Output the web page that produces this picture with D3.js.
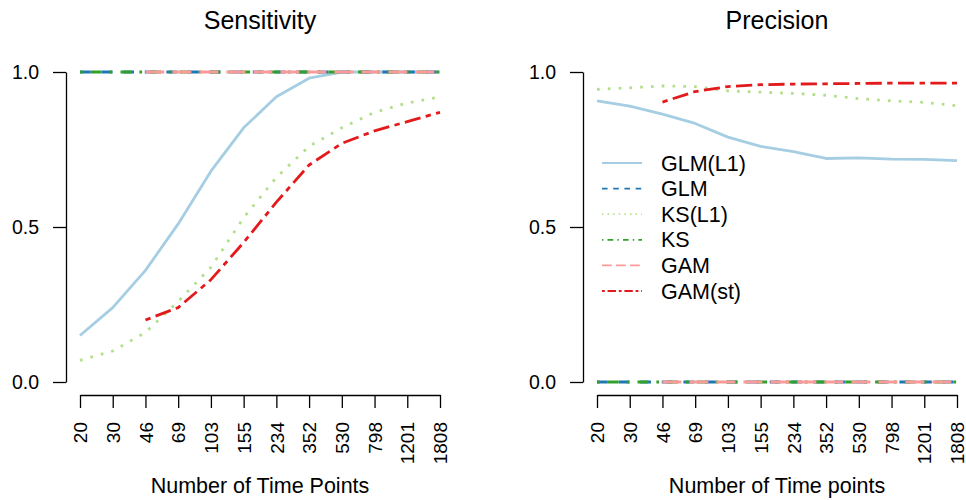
<!DOCTYPE html>
<html>
<head>
<meta charset="utf-8">
<script src="https://cdn.jsdelivr.net/npm/d3@7/dist/d3.min.js"></script>
<style>
  html, body { margin: 0; padding: 0; background: #fff; }
  svg { display: block; font-family: "Liberation Sans", Arial, Helvetica, sans-serif; }
</style>
</head>
<body>
<svg id="chart" width="966" height="500"></svg>
<script>
// Number of time points (categorical x positions)
const timePoints = ["20", "30", "46", "69", "103", "155", "234", "352", "530", "798", "1201", "1808"];
const methods = ["GLM(L1)", "GLM", "KS(L1)", "KS", "GAM", "GAM(st)"];

// Sensitivity by method
const sensGLML1 = [0.15, 0.24, 0.36, 0.51, 0.68, 0.82, 0.92, 0.98, 1.0, 1.0, 1.0, 1.0];
const sensGLM   = [1, 1, 1, 1, 1, 1, 1, 1, 1, 1, 1, 1];
const sensKSL1  = [0.07, 0.10, 0.16, 0.26, 0.37, 0.53, 0.66, 0.76, 0.82, 0.87, 0.90, 0.92];
const sensKS    = [1, 1, 1, 1, 1, 1, 1, 1, 1, 1, 1, 1];
const sensGAM   = [null, null, 1, 1, 1, 1, 1, 1, 1, 1, 1, 1];
const sensGAMst = [null, null, 0.20, 0.24, 0.33, 0.45, 0.58, 0.70, 0.77, 0.81, 0.84, 0.87];

// Precision by method
const precGLML1 = [0.907, 0.89, 0.864, 0.834, 0.79, 0.76, 0.743, 0.721, 0.723, 0.719, 0.718, 0.714];
const precGLM   = [0, 0, 0, 0, 0, 0, 0, 0, 0, 0, 0, 0];
const precKSL1  = [0.944, 0.949, 0.955, 0.953, 0.939, 0.935, 0.931, 0.925, 0.914, 0.907, 0.902, 0.891];
const precKS    = [0, 0, 0, 0, 0, 0, 0, 0, 0, 0, 0, 0];
const precGAM   = [null, null, 0, 0, 0, 0, 0, 0, 0, 0, 0, 0];
const precGAMst = [null, null, 0.903, 0.937, 0.953, 0.959, 0.961, 0.962, 0.963, 0.964, 0.964, 0.964];

const yTicks = [0, 0.5, 1];

// line styles (R lty patterns, in units of line width)
const colors = ["#A6CEE3", "#1F78B4", "#B2DF8A", "#33A02C", "#FB9A99", "#E31A1C"];
const dashUnits = [null, [4, 4], [1, 3], [1, 3, 4, 3], [7, 3], [2, 2, 6, 2]];

const svg = d3.select("#chart");

function dash(i, unit) {
  const d = dashUnits[i];
  return d ? d.map(v => v * unit).join(",") : null;
}

function panel(opts) {
  const x = d3.scaleLinear().domain([0, timePoints.length - 1]).range([opts.x0, opts.x1]);
  const y = d3.scaleLinear().domain([0, 1]).range([382, 72]);
  const g = svg.append("g");

  // y axis
  const ya = g.append("g")
    .attr("transform", `translate(${opts.yAxisX},0)`)
    .call(d3.axisLeft(y).tickValues(yTicks).tickFormat(d3.format(".1f")).tickSize(13).tickPadding(14).tickSizeOuter(0));
  ya.selectAll("text").style("font-size", "19.5px").attr("fill", "#000");

  // x axis
  const xa = g.append("g")
    .attr("transform", "translate(0,395)")
    .call(d3.axisBottom(x).tickValues(d3.range(timePoints.length)).tickFormat(i => timePoints[i]).tickSize(13).tickSizeOuter(0));
  xa.selectAll("text")
    .style("font-size", "19px").attr("fill", "#000")
    .attr("transform", "rotate(-90)")
    .attr("x", -27).attr("y", 0).attr("dy", "0.35em")
    .style("text-anchor", "end");
  [ya, xa].forEach(a => {
    a.select(".domain").attr("stroke", "#000").attr("stroke-width", 1.3);
    a.selectAll(".tick line").attr("stroke", "#000").attr("stroke-width", 1.3);
  });

  // series lines
  const line = d3.line()
    .defined(d => d != null)
    .x((d, i) => x(i))
    .y(d => y(d));
  opts.series.forEach((s, i) => {
    g.append("path")
      .attr("d", line(s))
      .attr("fill", "none")
      .attr("stroke", colors[i])
      .attr("stroke-width", 2.8)
      .attr("stroke-linejoin", "round")
      .attr("stroke-dasharray", dash(i, 2.7));
  });

  // title and axis label
  const cx = (opts.x0 + opts.x1) / 2;
  g.append("text").attr("x", cx).attr("y", 29).attr("text-anchor", "middle")
    .style("font-size", "25px").text(opts.title);
  g.append("text").attr("x", cx).attr("y", 493).attr("text-anchor", "middle")
    .style("font-size", "21.5px").text(opts.xlabel);
  return g;
}

panel({
  x0: 80, x1: 440, yAxisX: 66,
  title: "Sensitivity", xlabel: "Number of Time Points",
  series: [sensGLML1, sensGLM, sensKSL1, sensKS, sensGAM, sensGAMst]
});

panel({
  x0: 597, x1: 957, yAxisX: 583,
  title: "Precision", xlabel: "Number of Time points",
  series: [precGLML1, precGLM, precKSL1, precKS, precGAM, precGAMst]
});

// legend
const legend = svg.append("g");
const rowY = d3.scaleLinear().domain([0, methods.length - 1]).range([163, 291]);
methods.forEach((m, i) => {
  legend.append("line")
    .attr("x1", 602).attr("x2", 642)
    .attr("y1", rowY(i)).attr("y2", rowY(i))
    .attr("stroke", colors[i])
    .attr("stroke-width", 1.8)
    .attr("stroke-dasharray", dash(i, 1.4));
  legend.append("text")
    .attr("x", 661).attr("y", rowY(i)).attr("dy", "0.35em")
    .style("font-size", "21.5px").text(m);
});
</script>
</body>
</html>
